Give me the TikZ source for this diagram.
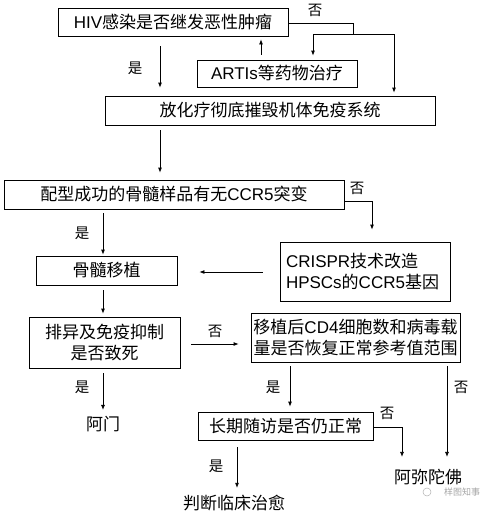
\documentclass[tikz,border=0pt]{standalone}
\usepackage{fontspec}
\setmainfont{Noto Sans CJK SC}
\newfontfamily\lat{Liberation Sans}
\usetikzlibrary{arrows.meta,calc}
\begin{document}
\begin{tikzpicture}[x=1pt,y=-1pt,
  box/.style={draw,line width=0.8pt,inner sep=0pt,font=\fontsize{17}{21}\selectfont},
  plain/.style={inner sep=0pt,font=\fontsize{17}{21}\selectfont},
  lbl/.style={inner sep=0pt,font=\fontsize{14.5}{17}\selectfont},
  arr/.style={line width=0.8pt,-{Latex[length=5pt,width=4pt]}},
  ln/.style={line width=0.8pt}]
\useasboundingbox (0,0) rectangle (498,514);
% boxes
\node[box,minimum width=230pt,minimum height=28pt] (b1) at (173,22) {{\lat HIV}感染是否继发恶性肿瘤};
\node[box,minimum width=160pt,minimum height=27pt] (art) at (277,73.5) {{\lat ARTIs}等药物治疗};
\node[box,minimum width=330pt,minimum height=29pt] (b2) at (270,110.5) {放化疗彻底摧毁机体免疫系统};
\node[box,minimum width=340pt,minimum height=29pt] (b3) at (174,194.5) {配型成功的骨髓样品有无{\lat CCR5}突变};
\node[box,minimum width=170pt,minimum height=59pt,align=left,text width=158pt] (cr) at (365,271.5) {{\lat CRISPR}技术改造\\{\lat HPSCs}的{\lat CCR5}基因};
\node[box,minimum width=141pt,minimum height=29pt] (bm) at (106.5,270.5) {骨髓移植};
\node[box,minimum width=151pt,minimum height=51pt,align=center] (px) at (104.5,342.5) {排异及免疫抑制\\是否致死};
\node[box,minimum width=209pt,minimum height=49pt,align=center] (cd) at (355.5,337.5) {移植后{\lat CD4}细胞数和病毒载\\量是否恢复正常参考值范围};
\node[box,minimum width=175pt,minimum height=28pt] (cq) at (285.5,426) {长期随访是否仍正常};
\node[plain] (am) at (103,424) {阿门};
\node[plain] (amt) at (428,477) {阿弥陀佛};
\node[plain] (pd) at (234,503) {判断临床治愈};
\node[inner sep=0pt,text=black!35,font=\fontsize{9}{10}\selectfont] (wm) at (462,492) {样图知事};
\draw[black!30,line width=0.5pt] (427,492) circle (4pt);
% helper x positions
\coordinate (x160) at (160,0);
\coordinate (x261) at (261,0);
\coordinate (x103) at (103,0);
\coordinate (x290) at (290,0);
\coordinate (x447) at (447,0);
\coordinate (x237) at (237,0);
\coordinate (y272) at (0,272);
\coordinate (y344) at (0,344);
\coordinate (y201) at (0,201);
\coordinate (j1) at (353,23);
\coordinate (j2) at (353,34);
\coordinate (j3) at (313,34);
\coordinate (j4) at (394,34);
\coordinate (j5) at (372,201);
\coordinate (j6) at (402,427);
% connectors
\draw[arr,shorten <=10pt,shorten >=8pt] (b1.south -| x160) -- (b2.north -| x160);
\draw[arr,shorten <=5pt,shorten >=3pt] (art.north -| x261) -- (b1.south -| x261);
\draw[ln] (b1.east |- j1) -- (j1) -- (j2);
\draw[arr,shorten >=4pt] (j4) -- (j3) -- (art.north -| j3);
\draw[arr,shorten >=3pt] (j2) -- (j4) -- (b2.north -| j4);
\draw[arr,shorten <=5pt,shorten >=7pt] (b2.south -| x160) -- (b3.north -| x160);
\draw[arr,shorten >=12pt] (b3.east |- y201) -- (j5) -- (cr.north -| j5);
\draw[arr,shorten <=4pt,shorten >=1pt] (b3.south -| x103) -- (bm.north -| x103);
\draw[arr,shorten <=17pt,shorten >=22pt] (cr.west |- y272) -- (bm.east |- y272);
\draw[arr,shorten <=5pt,shorten >=3pt] (bm.south -| x103) -- (px.north -| x103);
\draw[arr,shorten <=11pt,shorten >=12pt] (px.east |- y344) -- (cd.west |- y344);
\draw[arr,shorten <=5pt,shorten >=6pt] (px.south -| x103) -- (am.north -| x103);
\draw[arr,shorten <=4pt,shorten >=5pt] (cd.south -| x290) -- (cq.north -| x290);
\draw[arr,shorten <=4pt,shorten >=12pt] (cd.south -| x447) -- (amt.north -| x447);
\draw[arr,shorten >=12pt] (cq.east |- j6) -- (j6) -- (amt.north -| j6);
\draw[arr,shorten <=7pt,shorten >=7pt] (cq.south -| x237) -- (pd.north -| x237);
% labels
\node[lbl] at (315,10) {否};
\node[lbl] at (135,68) {是};
\node[lbl] at (357,188) {否};
\node[lbl] at (82,233) {是};
\node[lbl] at (215,331) {否};
\node[lbl] at (82,387) {是};
\node[lbl] at (273,387) {是};
\node[lbl] at (461,387) {否};
\node[lbl] at (387,413) {否};
\node[lbl] at (216,466) {是};
\end{tikzpicture}
\end{document}
